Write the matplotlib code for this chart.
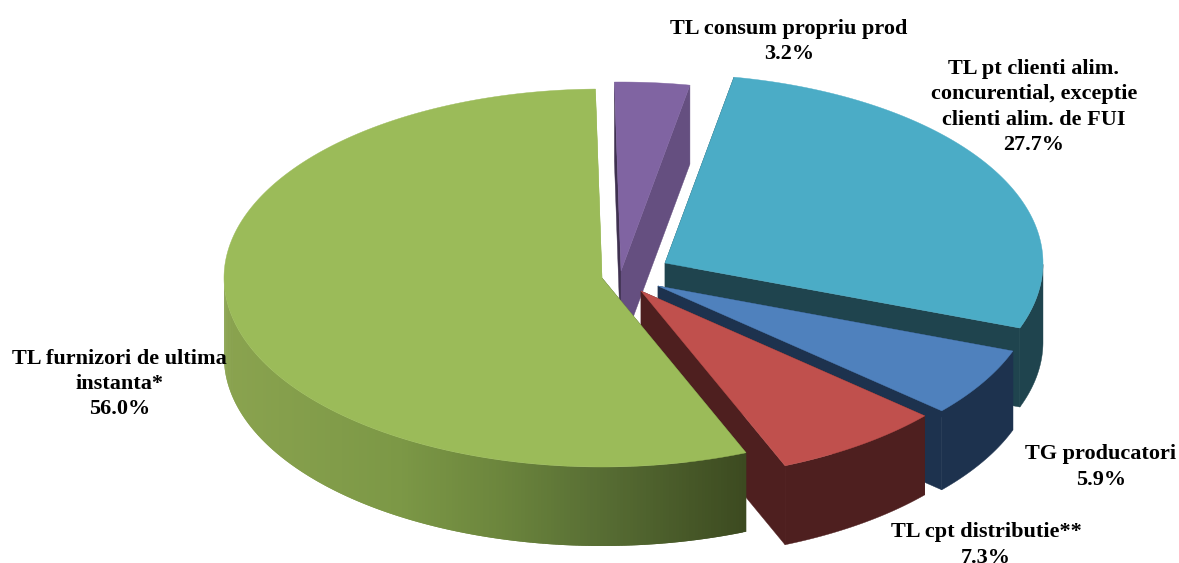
import numpy as np
import matplotlib
matplotlib.use("Agg")
import matplotlib.pyplot as plt

# clockwise from the top
names = ["TL consum propriu prod",
         "TL pt clienti alim.\nconcurential, exceptie\nclienti alim. de FUI",
         "TG producatori",
         "TL cpt distributie**",
         "TL furnizori de ultima\ninstanta*"]
shares = [3.2, 27.7, 5.9, 7.3, 56.0]

top_colors = ["#8064A2", "#4BACC6", "#4F81BD", "#C0504D", "#9BBB59"]
side_colors = ["#654F80", "#1F444E", "#1D324E", "#4E1F1F", "#87A04D"]
start_face = ["#3F3150", "#1F444E", "#1D324E", "#4E1F1F", "#3C4A20"]
end_face = ["#654F80", "#1F444E", "#1D324E", "#4E1F1F", "#9BBB59"]
# each slice is pulled out by hand, apex in pixels
apex_x = [621, 665, 658, 641, 602]
apex_y = [271, 263, 286, 291, 278]
label_x = [789, 1034, 1101, 986, 119.5]
label_y = [41.5, 107, 467, 545, 384]

RX, RY = 378, 189
DEPTH = 79
START = -1.0

fig = plt.figure(figsize=(11.79, 5.63), dpi=100)
ax = fig.add_axes([0, 0, 1, 1])
ax.set_xlim(0, 1179)
ax.set_ylim(563, 0)
ax.axis("off")


def rim(cx, cy, a):
    a = np.radians(a)
    return cx + RX * np.sin(a), cy - RY * np.cos(a)


def green_shade(x):
    # side of the big slice gets darker to the right
    xs = [224, 400, 500, 600, 748]
    r = np.interp(x, xs, [0x8A, 0x7C, 0x6C, 0x58, 0x3C])
    g = np.interp(x, xs, [0xA3, 0x98, 0x86, 0x6E, 0x4A])
    b = np.interp(x, xs, [0x4F, 0x46, 0x3D, 0x34, 0x20])
    return (r / 255, g / 255, b / 255)


edges = START + np.cumsum([0] + shares) * 360 / sum(shares)

for i in range(len(shares)):
    cx, cy = apex_x[i], apex_y[i]
    a0, a1 = edges[i], edges[i + 1]
    angles = np.linspace(a0, a1, max(int(a1 - a0) * 2, 8))
    xs, ys = rim(cx, cy, angles)
    # cut faces
    for a, c in [(a0, start_face[i]), (a1, end_face[i])]:
        ex, ey = rim(cx, cy, a)
        ax.fill([cx, ex, ex, cx], [cy, ey, ey + DEPTH, cy + DEPTH], color=c, lw=0.3)
    # outer wall, front half only
    front = (angles >= 90) & (angles <= 270)
    if front.sum() > 1:
        fx, fy = xs[front], ys[front]
        if i == 4:
            # overlapping strips so no seams show
            for j in range(len(fx) - 1):
                k = min(j + 2, len(fx) - 1)
                ax.fill(np.r_[fx[j:k + 1], fx[j:k + 1][::-1]],
                        np.r_[fy[j:k + 1], fy[j:k + 1][::-1] + DEPTH],
                        color=green_shade(fx[j]), lw=0)
        else:
            ax.fill(np.r_[fx, fx[::-1]], np.r_[fy, fy[::-1] + DEPTH], color=side_colors[i], lw=0.3)
    ax.fill(np.r_[cx, xs], np.r_[cy, ys], color=top_colors[i], lw=0.3)

for i in range(len(shares)):
    ax.text(label_x[i], label_y[i], f"{names[i]}\n{shares[i]:.1f}%", ha="center", va="center",
            fontsize=16, fontweight="bold", family="Liberation Serif", color="black",
            linespacing=1.36, zorder=10)

fig.savefig("out.png", dpi=100)
